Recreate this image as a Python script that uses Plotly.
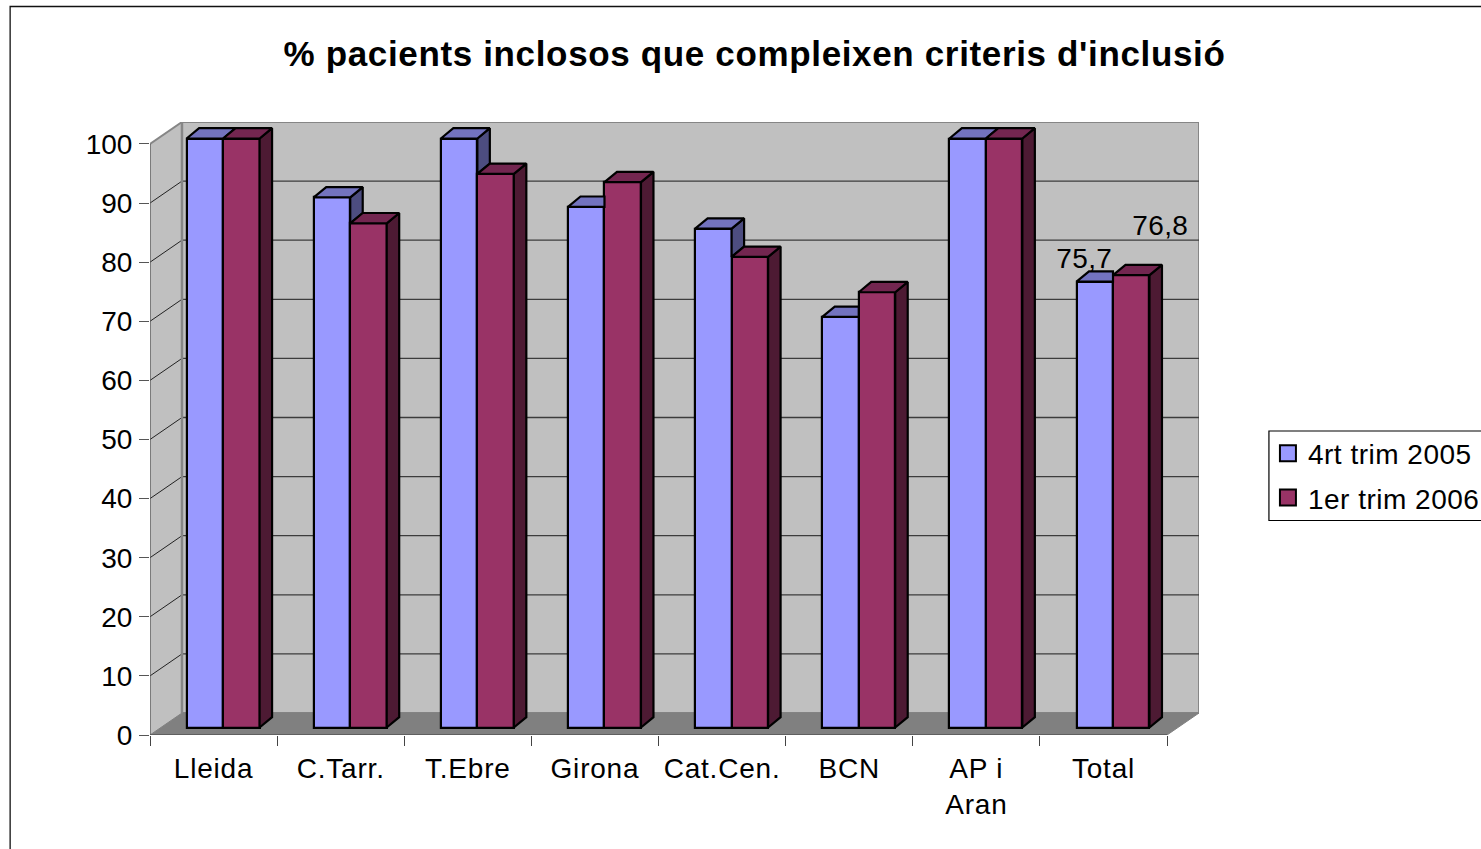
import plotly.graph_objects as go

# ---- data ----
categories = ["Lleida", "C.Tarr.", "T.Ebre", "Girona", "Cat.Cen.", "BCN", "AP i<br>Aran", "Total"]
series_names = ["4rt trim 2005", "1er trim 2006"]
values_2005 = [100, 90, 100, 88.4, 84.7, 69.7, 100, 75.7]
values_2006 = [100, 85.6, 94, 92.6, 79.9, 73.9, 100, 76.8]
y_ticks = list(range(0, 101, 10))
title_text = "% pacients inclosos que compleixen criteris d'inclusió"

# ---- geometry in axis units ----
FONT = "Liberation Sans, Arial, sans-serif"
W, H = 1481, 849
L, R, T, B = 149.5, 1199.5, 122, 735          # plot rectangle in the page
cat_px = (1167.5 - 149.5) / 8
wall_dx = (R - 1167.5) / cat_px               # depth of floor, category units
wall_dy = 22 / 5.915                          # depth of floor, value units
bar_dx, bar_dy = 12.5 / cat_px, 1.75          # depth of a bar
bar_off, bar_w = 0.288, 0.287
n = len(categories)
pos = list(range(n))
x_a = [p + bar_off + bar_w / 2 for p in pos]
x_b = [p + bar_off + bar_w * 1.5 for p in pos]

BLUE, BLUE_TOP, BLUE_SIDE = "#9999FF", "#7373BF", "#4D4D80"
RED, RED_TOP, RED_SIDE = "#993366", "#732650", "#4D1A33"
GREY, WALL_EDGE, FLOOR, GRID = "#C0C0C0", "#868686", "#808080", "#3c3c3c"


def poly(points_list):
    xs, ys = [], []
    for pts in points_list:
        for px, py in pts + [pts[0]]:
            xs.append(px)
            ys.append(py)
        xs.append(None)
        ys.append(None)
    return xs, ys


fig = go.Figure()


def area(points_list, fill, line=None, width=1.0, axis="y"):
    xs, ys = poly(points_list)
    fig.add_trace(go.Scatter(x=xs, y=ys, yaxis=axis, mode="lines", fill="toself", fillcolor=fill, cliponaxis=False,
                             line=dict(color=line or fill, width=width), hoverinfo="skip", showlegend=False))


def lines(segments, color, width, axis="y"):
    xs, ys = [], []
    for (a, b) in segments:
        xs += [a[0], b[0], None]
        ys += [a[1], b[1], None]
    fig.add_trace(go.Scatter(x=xs, y=ys, yaxis=axis, mode="lines", line=dict(color=color, width=width), cliponaxis=False,
                             hoverinfo="skip", showlegend=False))


# walls and floor, on the main axes
top_v = y_ticks[-1]
area([[(wall_dx, wall_dy), (n + wall_dx, wall_dy), (n + wall_dx, top_v + wall_dy), (wall_dx, top_v + wall_dy)]], GREY, WALL_EDGE, 2)
area([[(0, 0), (wall_dx, wall_dy), (wall_dx, top_v + wall_dy), (0, top_v)]], GREY)
lines([((0, top_v), (wall_dx, top_v + wall_dy))], WALL_EDGE, 2)
lines([((0, v), (wall_dx, v + wall_dy)) for v in y_ticks[1:-1]], "#222222", 1)
lines([((wall_dx, v + wall_dy), (n + wall_dx, v + wall_dy)) for v in y_ticks[1:-1]], GRID, 1.3)
area([[(0, 0), (n, 0), (n + wall_dx, wall_dy), (wall_dx, wall_dy)]], FLOOR)
lines([((wall_dx, wall_dy), (wall_dx, top_v + wall_dy))], WALL_EDGE, 2.5)
lines([((0, 0), (0, top_v)), ((0, 0), (n, 0))], "#555555", 1.3)

# front faces, on the bars' own slightly nearer value axis
for name, xs, vals, col in [(series_names[0], x_a, values_2005, BLUE), (series_names[1], x_b, values_2006, RED)]:
    fig.add_trace(go.Bar(x=xs, y=vals, width=bar_w, name=name, yaxis="y2", marker=dict(color=col, line=dict(color="#000000", width=2.2)),
                         showlegend=False, cliponaxis=False))

# top and side faces
blue_tops, blue_sides, red_tops, red_sides = [], [], [], []
for p, a, b in zip(pos, values_2005, values_2006):
    x0 = p + bar_off
    x1 = x0 + bar_w
    x2 = x1 + bar_w
    if b > a:
        blue_tops.append([(x0, a), (x1, a), (x1, a + bar_dy), (x0 + bar_dx, a + bar_dy)])
    else:
        blue_tops.append([(x0, a), (x1, a), (x1 + bar_dx, a + bar_dy), (x0 + bar_dx, a + bar_dy)])
    if a > b:
        blue_sides.append([(x1, a), (x1 + bar_dx, a + bar_dy), (x1 + bar_dx, b + bar_dy), (x1, b)])
    red_tops.append([(x1, b), (x2, b), (x2 + bar_dx, b + bar_dy), (x1 + bar_dx, b + bar_dy)])
    red_sides.append([(x2, b), (x2 + bar_dx, b + bar_dy), (x2 + bar_dx, 0 + bar_dy), (x2, 0)])
area(blue_sides, BLUE_SIDE, "#000000", 2.2, "y2")
area(blue_tops, BLUE_TOP, "#000000", 2.2, "y2")
area(red_sides, RED_SIDE, "#000000", 2.2, "y2")
area(red_tops, RED_TOP, "#000000", 2.2, "y2")

# legend entries
for group, name, col in [("a", series_names[0], BLUE), ("b", series_names[1], RED)]:
    fig.add_trace(go.Scatter(x=[None], y=[None], mode="markers", name=name, legendgroup=group,
                             marker=dict(symbol="square", size=16, color=col, line=dict(color="#000000", width=2))))

fig.update_layout(
    width=W, height=H, autosize=False,
    margin=dict(l=L, r=W - R, t=T, b=H - B, pad=0, autoexpand=False),
    paper_bgcolor="#FFFFFF", plot_bgcolor="rgba(0,0,0,0)",
    font=dict(family=FONT, size=28, color="#000000"),
    title=dict(text="<b>" + title_text + "</b>", x=754.5 / W, xanchor="center", y=1 - 54 / H, yanchor="middle",
               font=dict(size=35)),
    barmode="overlay", bargap=0,
    xaxis=dict(range=[0, n + wall_dx], tickvals=[p + 0.5 for p in pos], ticktext=categories, ticks="",
               minor=dict(tickvals=list(range(n + 1)), ticks="outside", ticklen=10, tickcolor="#444444", tickwidth=1.3),
               showgrid=False, zeroline=False, showline=False, tickangle=0, ticklabelstandoff=14),
    yaxis=dict(range=[0, top_v + wall_dy], tickvals=y_ticks, ticks="outside", ticklen=10, tickcolor="#555555", tickwidth=1.3,
               showgrid=False, zeroline=False, showline=False, ticklabelstandoff=1),
    yaxis2=dict(overlaying="y", range=[-7.5 / 5.89, (727.5 - T) / 5.89], visible=False),
    legend=dict(x=(1268.5 - L) / (R - L), xanchor="left", y=(B - 428.5) / (B - T), yanchor="top", borderwidth=0,
                bgcolor="rgba(0,0,0,0)", traceorder="grouped", tracegroupgap=5, font=dict(size=28)),
    shapes=[
        dict(type="rect", xref="paper", yref="paper", x0=(9.5 - L) / (R - L), x1=(W + 20 - L) / (R - L),
             y0=(B - H - 20) / (B - T), y1=(B - 6.5) / (B - T), line=dict(color="#111111", width=1.3), layer="below"),
        dict(type="rect", xref="paper", yref="paper", x0=(1269.5 - L) / (R - L), x1=(W + 20 - L) / (R - L),
             y0=(B - 520.5) / (B - T), y1=(B - 431) / (B - T), line=dict(color="#000000", width=1.2), fillcolor="#FFFFFF", layer="below"),
    ],
    annotations=[
        dict(text=str(values_2005[-1]).replace(".", ","), x=x_a[-1], y=values_2005[-1], xref="x", yref="y2", showarrow=False, xshift=-10, yshift=23),
        dict(text=str(values_2006[-1]).replace(".", ","), x=x_b[-1], y=values_2006[-1], xref="x", yref="y2", showarrow=False, xshift=29, yshift=50),
    ],
)

spacing_js = """
document.body.style.margin='0';document.body.style.overflow='hidden';
var sp=[['.gtitle','0.65px'],['.xtick text','0.8px'],['.legendtext','0.5px'],['.annotation-text','0.4px']];
sp.forEach(function(s){document.querySelectorAll(s[0]).forEach(function(e){e.style.letterSpacing=s[1];});});
"""
fig.write_html("out.html", config={"displayModeBar": False}, post_script=spacing_js)
